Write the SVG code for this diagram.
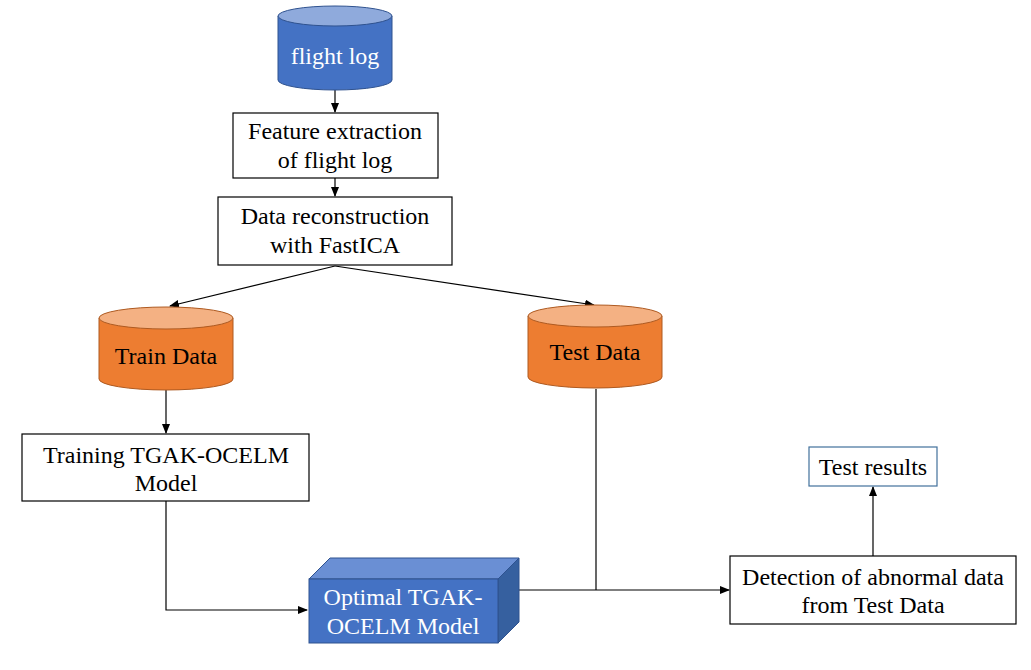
<svg xmlns="http://www.w3.org/2000/svg" width="1031" height="670" viewBox="0 0 1031 670">
<style>
text{font-family:"Liberation Serif","Times New Roman",serif;font-size:24px;text-anchor:middle;fill:#000}
.w{fill:#fff}
.box{fill:#fff;stroke:#000;stroke-width:1.2}
.conn{fill:none;stroke:#000;stroke-width:1.2}
.bside{fill:#4472C4;stroke:#2F528F;stroke-width:1}
.btop{fill:#8FAADC;stroke:#2F528F;stroke-width:1}
.oside{fill:#ED7D31;stroke:#AE5A21;stroke-width:1}
.otop{fill:#F4B183;stroke:#AE5A21;stroke-width:1}
</style>
<defs>
<marker id="ah" markerWidth="10" markerHeight="8" refX="9" refY="4" orient="auto" markerUnits="userSpaceOnUse">
<path d="M0,0 L10,4 L0,8 z" fill="#000"/>
</marker>
</defs>
<rect width="1031" height="670" fill="#fff"/>
<g id="connectors">
<line class="conn" x1="335" y1="88" x2="335" y2="112" marker-end="url(#ah)"/>
<line class="conn" x1="335" y1="178" x2="335" y2="196" marker-end="url(#ah)"/>
<line class="conn" x1="335" y1="266" x2="170" y2="306" marker-end="url(#ah)"/>
<line class="conn" x1="335" y1="266" x2="594" y2="305" marker-end="url(#ah)"/>
<line class="conn" x1="166" y1="389" x2="166" y2="433" marker-end="url(#ah)"/>
<polyline class="conn" points="166,501 166,610 307,610" marker-end="url(#ah)"/>
<line class="conn" x1="519" y1="590" x2="729" y2="590" marker-end="url(#ah)"/>
<line class="conn" x1="596" y1="389" x2="596" y2="590"/>
<line class="conn" x1="873" y1="556" x2="873" y2="487" marker-end="url(#ah)"/>
</g>
<g id="flight-log">
<path class="bside" d="M278,16 L278,80 A57,10 0 0 0 392,80 L392,16 Z"/>
<ellipse class="btop" cx="335" cy="16" rx="57" ry="10"/>
<text class="w" x="335" y="64">flight log</text>
</g>
<g id="feature-extraction">
<rect class="box" x="233" y="113" width="205" height="65"/>
<text x="335" y="139">Feature extraction</text>
<text x="335" y="168">of flight log</text>
</g>
<g id="data-reconstruction">
<rect class="box" x="218" y="197" width="234" height="68"/>
<text x="335" y="224">Data reconstruction</text>
<text x="335" y="253">with FastICA</text>
</g>
<g id="train-data">
<path class="oside" d="M99,318 L99,379 A67,11 0 0 0 233,379 L233,318 Z"/>
<ellipse class="otop" cx="166" cy="318" rx="67" ry="11"/>
<text x="166" y="364">Train Data</text>
</g>
<g id="test-data">
<path class="oside" d="M528,316 L528,377 A67,11 0 0 0 662,377 L662,316 Z"/>
<ellipse class="otop" cx="595" cy="316" rx="67" ry="11"/>
<text x="595" y="360">Test Data</text>
</g>
<g id="training-model">
<rect class="box" x="22" y="434" width="287" height="67"/>
<text x="166" y="463">Training TGAK-OCELM</text>
<text x="166" y="491">Model</text>
</g>
<g id="optimal-model">
<path d="M309,579 L330,558 L519,558 L498,579 Z" fill="#6A8FD4" stroke="#2F528F" stroke-width="1"/>
<path d="M498,579 L519,558 L519,622 L498,643 Z" fill="#36609F" stroke="#2F528F" stroke-width="1"/>
<rect x="309" y="579" width="189" height="64" fill="#4472C4" stroke="#2F528F" stroke-width="1"/>
<text class="w" x="403" y="605">Optimal TGAK-</text>
<text class="w" x="403" y="634">OCELM Model</text>
</g>
<g id="detection">
<rect class="box" x="730" y="556" width="286" height="68"/>
<text x="873" y="585">Detection of abnormal data</text>
<text x="873" y="613">from Test Data</text>
</g>
<g id="test-results">
<rect x="809" y="447" width="128" height="39" fill="#fff" stroke="#41719C" stroke-width="1.2"/>
<text x="873" y="475">Test results</text>
</g>
</svg>
